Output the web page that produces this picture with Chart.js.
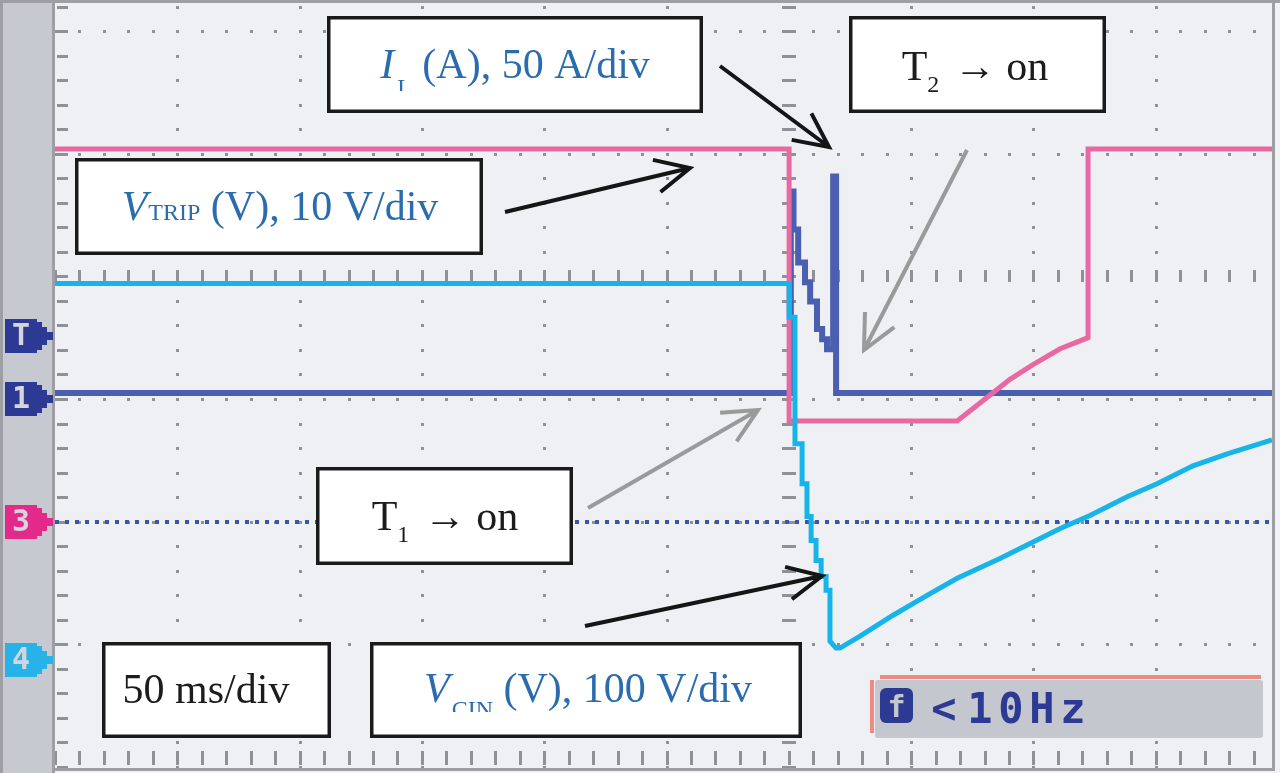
<!DOCTYPE html>
<html>
<head>
<meta charset="utf-8">
<script src="https://cdn.jsdelivr.net/npm/chart.js@4/dist/chart.umd.min.js"></script>
<style>
html, body { margin: 0; padding: 0; background: #f1f2f5; }
canvas { display: block; }
</style>
</head>
<body>
<canvas id="scope" width="1280" height="773"></canvas>
<script>
// scope capture, 50 ms/div, time in ms from left edge of the screen
// V_TRIP (ch3, V)
const tripT = [0, 300.1, 300.1, 368.8, 380.2, 390.4, 399.8, 410.9, 422.3, 422.3, 497.5];
const tripV = [30.4, 30.4, 8.2, 8.2, 10.0, 11.6, 12.8, 14.1, 15.0, 30.4, 30.4];

// I_L (ch1, A)
const curT = [0, 300.8, 300.8, 301.9, 301.9, 303.8, 303.8, 306.6, 306.6, 308.7, 308.7,
    311.5, 311.5, 313.6, 313.6, 315.6, 315.6, 318.1, 318.1, 319.3, 319.3, 497.5];
const curA = [2.4, 2.4, 84.6, 84.6, 69.1, 69.1, 55.7, 55.7, 47.6, 47.6, 39.8,
    39.8, 28.5, 28.5, 24.4, 24.4, 20.3, 20.3, 90.7, 90.7, 2.4, 2.4];

// V_CIN (ch4, V)
const cinT = [0, 300.1, 300.1, 302.5, 302.5, 305.4, 305.4, 307.4, 307.4, 309.1, 309.1,
    311.1, 311.1, 313.2, 313.2, 315.2, 315.2, 316.8, 316.8, 319.3, 320.9, 329.1,
    342.6, 356.5, 368.8, 386.3, 398.6, 410.9, 423.1, 438.3, 450.5, 465.2, 479.2, 497.5];
const cinV = [307.3, 307.3, 279.7, 279.7, 176.4, 176.4, 143.9, 143.9, 117.1, 117.1, 97.6,
    97.6, 81.3, 81.3, 68.3, 68.3, 56.9, 56.9, 15.4, 9.8, 9.8, 19.5,
    36.6, 52.8, 66.7, 82.9, 95.1, 107.3, 117.9, 133.3, 143.9, 158.5, 168.3, 179.7];

// screen in divisions, channel ground levels (div) and scales (per div)
const tMax = 497.5;
const yMin = -0.01, yMax = 6.23;
const gndI = 3.0, perI = 50;
const gndV = 2.0, perV = 10;
const gndC = 0.87, perC = 100;
const trigA = 25.6;

const BLUE_TXT = '#2a6cae';
const INK = '#1c1c1c';
const SERIF = '"Liberation Serif", "Times New Roman", serif';

function pts(xs, ys) {
    return xs.map((x, i) => ({ x: x, y: ys[i] }));
}

function drawRuns(ctx, runs, cx, base) {
    let w = 0;
    runs.forEach(r => {
        ctx.font = r.font;
        r.w = ctx.measureText(r.text).width + (r.gap || 0);
        w += r.w;
    });
    let x = cx - w / 2;
    runs.forEach(r => {
        ctx.font = r.font;
        ctx.fillStyle = r.color;
        if (r.clip) {
            ctx.save();
            ctx.beginPath();
            ctx.rect(x - 2, 0, r.w + 4, base + r.clip);
            ctx.clip();
        }
        ctx.fillText(r.text, x + (r.pre || 0), base + (r.dy || 0));
        if (r.clip) ctx.restore();
        x += r.w;
    });
}

function arrow(ctx, x1, y1, x2, y2, color) {
    const a = Math.atan2(y2 - y1, x2 - x1), L = 38, s = 0.45;
    ctx.strokeStyle = color;
    ctx.lineWidth = 4;
    ctx.lineCap = 'butt';
    ctx.lineJoin = 'miter';
    ctx.beginPath();
    ctx.moveTo(x1, y1);
    ctx.lineTo(x2, y2);
    ctx.moveTo(x2 - L * Math.cos(a - s), y2 - L * Math.sin(a - s));
    ctx.lineTo(x2, y2);
    ctx.lineTo(x2 - L * Math.cos(a + s), y2 - L * Math.sin(a + s));
    ctx.stroke();
}

function tag(ctx, c, color, label) {
    ctx.fillStyle = color;
    ctx.beginPath();
    ctx.moveTo(5, c - 17); ctx.lineTo(37, c - 17); ctx.lineTo(37, c - 14);
    ctx.lineTo(42, c - 14); ctx.lineTo(42, c - 9); ctx.lineTo(47, c - 9);
    ctx.lineTo(47, c - 4); ctx.lineTo(53, c - 4); ctx.lineTo(53, c + 4);
    ctx.lineTo(47, c + 4); ctx.lineTo(47, c + 9); ctx.lineTo(42, c + 9);
    ctx.lineTo(42, c + 14); ctx.lineTo(37, c + 14); ctx.lineTo(37, c + 17);
    ctx.lineTo(5, c + 17); ctx.closePath();
    ctx.fill();
    ctx.fillStyle = '#d4d6db';
    ctx.font = 'bold 30px "DejaVu Sans Mono", monospace';
    ctx.textAlign = 'center';
    ctx.textBaseline = 'middle';
    ctx.fillText(label, 21, c + 1);
    ctx.textAlign = 'left';
    ctx.textBaseline = 'alphabetic';
}

const scopeScreen = {
    id: 'scopeScreen',
    beforeDraw(chart) {
        const { ctx, chartArea: a } = chart;
        ctx.save();
        ctx.fillStyle = '#f1f2f5';
        ctx.fillRect(0, 0, chart.width, chart.height);
        ctx.fillStyle = '#c6c9cf';
        ctx.fillRect(0, 0, a.left, chart.height);
        ctx.fillStyle = '#9d9fa4';
        ctx.fillRect(0, 0, 3, chart.height);
        ctx.fillRect(a.left - 3, 0, 3, chart.height);
        ctx.fillRect(0, 0, chart.width, 3);
        ctx.fillRect(a.right, a.top, 3, a.bottom - a.top + 3);
        ctx.fillRect(a.left, a.bottom, a.right - a.left + 3, 3);
        ctx.fillStyle = '#eef0f4';
        ctx.fillRect(a.left, a.top, a.right - a.left, a.bottom - a.top);
        ctx.restore();
    },
    beforeDatasetsDraw(chart) {
        const { ctx, chartArea: a } = chart;
        const x = chart.scales.x, y = chart.scales.y;
        ctx.save();
        ctx.beginPath();
        ctx.rect(a.left, a.top, a.right - a.left, a.bottom - a.top);
        ctx.clip();
        ctx.fillStyle = '#8f9196';
        // major columns with minor marks
        for (let t = 0; t <= tMax; t += 50) {
            const px = Math.round(x.getPixelForValue(t));
            for (let d = 0; d <= yMax; d += 0.2) {
                const py = Math.round(y.getPixelForValue(d));
                if (t === 0) ctx.fillRect(px + 2, py - 1, 11, 3);
                else if (t === 300) ctx.fillRect(px - 7, py - 1, 14, 3);
                else ctx.fillRect(px - 1, py - 1, 3, 3);
            }
        }
        // major rows with minor marks
        for (let d = 0; d <= 6; d++) {
            const py = Math.round(y.getPixelForValue(d));
            for (let t = 0; t <= tMax; t += 10) {
                const px = Math.round(x.getPixelForValue(t));
                if (d === 0) ctx.fillRect(px - 1, py - 16, 3, 14);
                else if (d === 4) ctx.fillRect(px - 1, py - 6, 3, 12);
                else ctx.fillRect(px - 1, py - 1, 3, 3);
            }
        }
        // ch3 ground reference, dotted
        const g3 = Math.round(chart.scales.yV.getPixelForValue(0));
        ctx.strokeStyle = '#3d55a8';
        ctx.lineWidth = 4;
        ctx.setLineDash([4, 6]);
        ctx.beginPath();
        ctx.moveTo(a.left, g3);
        ctx.lineTo(a.right, g3);
        ctx.stroke();
        ctx.restore();
    },
    afterDatasetsDraw(chart) {
        const { ctx } = chart;
        const s = chart.scales;
        ctx.save();

        // channel markers
        tag(ctx, Math.round(s.yI.getPixelForValue(trigA)), '#2c3a93', 'T');
        tag(ctx, Math.round(s.yI.getPixelForValue(0)), '#2c3a93', '1');
        tag(ctx, Math.round(s.yV.getPixelForValue(0)), '#e3298a', '3');
        tag(ctx, Math.round(s.yC.getPixelForValue(0)), '#27b3e8', '4');

        // arrows
        arrow(ctx, 720, 66, 829, 147, '#151515');
        arrow(ctx, 505, 212, 690, 168, '#151515');
        arrow(ctx, 967, 150, 864, 350, '#9a9a9a');
        arrow(ctx, 588, 508, 758, 410, '#9a9a9a');
        arrow(ctx, 585, 626, 822, 576, '#151515');

        // label boxes
        const boxes = [
            [327, 16, 376, 97], [849, 16, 257, 97], [75, 158, 408, 97],
            [316, 467, 257, 98], [102, 642, 229, 96], [370, 642, 432, 96]
        ];
        boxes.forEach(b => {
            ctx.fillStyle = '#ffffff';
            ctx.fillRect(b[0], b[1], b[2], b[3]);
            ctx.strokeStyle = '#1a1a1a';
            ctx.lineWidth = 3.5;
            ctx.strokeRect(b[0] + 1.75, b[1] + 1.75, b[2] - 3.5, b[3] - 3.5);
        });

        const big = '42px ' + SERIF, bigI = 'italic 42px ' + SERIF, sub = '24px ' + SERIF;
        drawRuns(ctx, [
            { text: 'I', font: bigI, color: BLUE_TXT, gap: 3 },
            { text: 'L', font: sub, color: BLUE_TXT, dy: 17, clip: 13 },
            { text: ' (A), 50 A/div', font: big, color: BLUE_TXT }
        ], 515, 78);
        drawRuns(ctx, [
            { text: 'T', font: big, color: INK },
            { text: '2', font: sub, color: INK, dy: 12, gap: 4 },
            { text: ' \u2192 on', font: big, color: INK }
        ], 975, 80);
        drawRuns(ctx, [
            { text: 'V', font: bigI, color: BLUE_TXT, gap: 1 },
            { text: 'TRIP', font: sub, color: BLUE_TXT },
            { text: ' (V), 10 V/div', font: big, color: BLUE_TXT }
        ], 280, 220);
        drawRuns(ctx, [
            { text: 'T', font: big, color: INK },
            { text: '1', font: sub, color: INK, dy: 12, gap: 4 },
            { text: ' \u2192 on', font: big, color: INK }
        ], 445, 530);
        drawRuns(ctx, [
            { text: '50 ms/div', font: big, color: INK }
        ], 206, 703);
        drawRuns(ctx, [
            { text: 'V', font: bigI, color: BLUE_TXT, gap: 2 },
            { text: 'CIN', font: sub, color: BLUE_TXT, dy: 15, clip: 10 },
            { text: ' (V), 100 V/div', font: big, color: BLUE_TXT }
        ], 588, 702);

        // trigger frequency readout
        ctx.fillStyle = '#ee8a82';
        ctx.fillRect(880, 675, 381, 4);
        ctx.fillRect(870, 680, 4, 53);
        ctx.fillStyle = '#c4c7cd';
        ctx.beginPath();
        ctx.roundRect(875, 680, 388, 58, 3);
        ctx.fill();
        ctx.fillStyle = '#2c3a93';
        ctx.beginPath();
        ctx.roundRect(880, 688, 33, 35, 6);
        ctx.fill();
        ctx.fillStyle = '#c4c7cd';
        ctx.font = 'bold 30px "DejaVu Sans Mono", monospace';
        ctx.textAlign = 'center';
        ctx.fillText('f', 896.5, 717);
        ctx.fillStyle = '#2c3a93';
        ctx.font = 'bold 42px "DejaVu Sans Mono", monospace';
        const readout = '<10Hz', cx = [944, 980, 1011, 1042, 1073];
        for (let i = 0; i < readout.length; i++) ctx.fillText(readout[i], cx[i], 723);
        ctx.textAlign = 'left';
        ctx.restore();
    }
};

const chanAxis = (gnd, per) => ({
    type: 'linear', display: false,
    min: (yMin - gnd) * per, max: (yMax - gnd) * per
});

new Chart('scope', {
    type: 'scatter',
    data: {
        datasets: [
            {
                label: 'V_CIN (V), 100 V/div',
                data: pts(cinT, cinV),
                yAxisID: 'yC',
                borderColor: '#17b4ea',
                borderWidth: 5
            },
            {
                label: 'V_TRIP (V), 10 V/div',
                data: pts(tripT, tripV),
                yAxisID: 'yV',
                borderColor: '#e968a2',
                borderWidth: 5
            },
            {
                label: 'I_L (A), 50 A/div',
                data: pts(curT, curA),
                yAxisID: 'yI',
                borderColor: '#4a5fb0',
                borderWidth: 6
            }
        ]
    },
    options: {
        responsive: false,
        animation: false,
        layout: { padding: { left: 55, top: 3, right: 8, bottom: 5 } },
        elements: {
            line: { tension: 0, borderJoinStyle: 'miter', borderCapStyle: 'butt', fill: false },
            point: { radius: 0, hoverRadius: 0 }
        },
        datasets: { scatter: { showLine: true } },
        plugins: { legend: { display: false }, tooltip: { enabled: false } },
        scales: {
            x: { type: 'linear', display: false, min: 0, max: tMax },
            y: { type: 'linear', display: false, min: yMin, max: yMax },
            yI: chanAxis(gndI, perI),
            yV: chanAxis(gndV, perV),
            yC: chanAxis(gndC, perC)
        }
    },
    plugins: [scopeScreen]
});
</script>
</body>
</html>
